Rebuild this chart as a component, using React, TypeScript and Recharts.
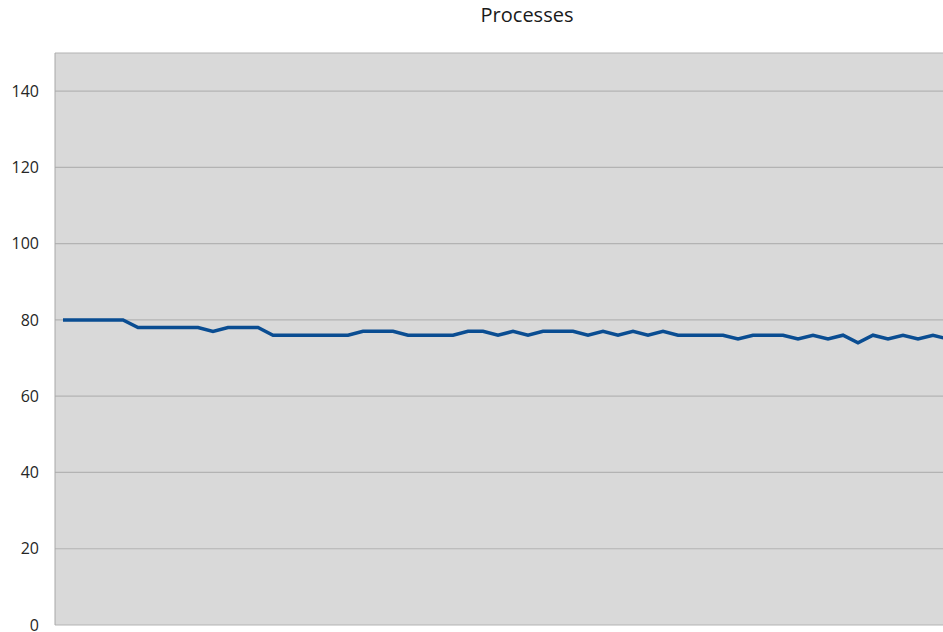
import React from "react";
import { LineChart, Line, XAxis, YAxis, CartesianGrid } from "recharts";

// sample index along the x axis (no labels shown in the original)
const samples = [
  1, 2, 3, 4, 5, 6, 7, 8, 9, 10, 11, 12, 13, 14, 15, 16, 17, 18, 19, 20,
  21, 22, 23, 24, 25, 26, 27, 28, 29, 30, 31, 32, 33, 34, 35, 36, 37, 38, 39, 40,
  41, 42, 43, 44, 45, 46, 47, 48, 49, 50, 51, 52, 53, 54, 55, 56, 57, 58, 59, 60,
];

const processes = [
  80, 80, 80, 80, 80, 78, 78, 78, 78, 78, 77, 78, 78, 78, 76, 76, 76, 76, 76, 76,
  77, 77, 77, 76, 76, 76, 76, 77, 77, 76, 77, 76, 77, 77, 77, 76, 77, 76, 77, 76,
  77, 76, 76, 76, 76, 75, 76, 76, 76, 75, 76, 75, 76, 74, 76, 75, 76, 75, 76, 75,
];

const yTicks = [0, 20, 40, 60, 80, 100, 120, 140];

const data = samples.map((s, i) => ({ sample: s, processes: processes[i] }));

const FONT = "'Open Sans', sans-serif";

export default function App() {
  return (
    <div
      style={{
        position: "absolute",
        left: 0,
        top: 0,
        width: 943,
        height: 632,
        overflow: "hidden",
        background: "#fff",
        fontFamily: FONT,
      }}
    >
      <div
        style={{
          position: "absolute",
          left: 427,
          top: 1,
          width: 200,
          textAlign: "center",
          fontSize: 20,
          color: "#1a1a1a",
        }}
      >
        Processes
      </div>
      <LineChart
        width={960}
        height={640}
        data={data}
        margin={{ top: 53, right: 5, left: 0, bottom: 15 }}
        style={{ position: "absolute", left: 0, top: 0, overflow: "visible" }}
      >
        <CartesianGrid vertical={false} fill="#d9d9d9" stroke="#b3b3b3" strokeWidth={1.2} />
        <XAxis
          dataKey="sample"
          hide
          padding={{ left: 8, right: 7 }}
        />
        <YAxis
          width={55}
          domain={[0, 150]}
          ticks={yTicks}
          interval={0}
          tickLine={false}
          tickMargin={10}
          axisLine={{ stroke: "#a8a8a8" }}
          tick={{ fontSize: 16, fill: "#262626", fontFamily: FONT }}
        />
        <Line
          type="linear"
          dataKey="processes"
          stroke="#0a4d92"
          strokeWidth={3.5}
          dot={false}
          isAnimationActive={false}
        />
      </LineChart>
    </div>
  );
}
